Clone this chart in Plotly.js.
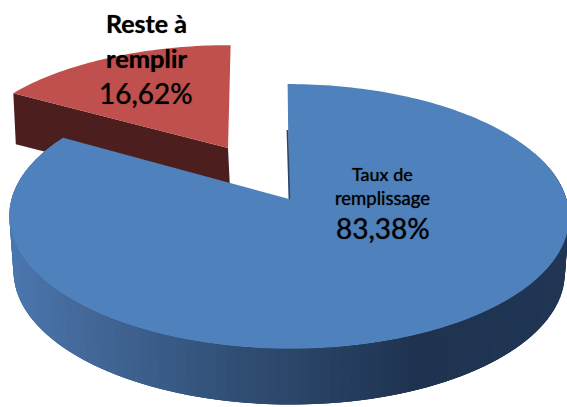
<!DOCTYPE html>
<html><head><meta charset="utf-8">
<script src="https://cdn.plot.ly/plotly-3.0.1.min.js"></script>
<style>html,body{margin:0;padding:0;background:#fff}#c{width:567px;height:407px}</style>
</head><body><div id="c"></div>
<script>
var categories = ["Taux de remplissage", "Reste à remplir"];
var values = [83.38, 16.62];
var labelLines = [["Taux de", "remplissage"], ["Reste à", "remplir"]];
var colors = ["#4f81bd", "#c0504d"];
var redSide = "#4c1f1e";

var total = values[0] + values[1];
var blueEnd = 2 * Math.PI * values[0] / total;

// Perspective disc projection (screen pixel axes)
var K = 0.131, A = 277.5, B = 130;
function proj(t, r, o) {
  o = o || {};
  var u = r * Math.sin(t), v = r * Math.cos(t), w = 1 + K * v;
  var px = A * u / w, py = -B * v / w;
  var dx = (o.sx || 1) * px + (o.shear || 0) * (-py) + (o.dx || 0);
  var dy = (o.sy || 1) * py + (o.dy || 0);
  return [289 + dx + (-0.012) * (-py), 199 + dy];
}
var blueTop = {};
var blueBot = {sx: 0.985, dy: 56};
var redTop = {dx: -61, dy: -51, sx: 0.96, sy: 0.895, shear: 0.035};
var redBot = {dx: -58.5, dy: 0, sx: 0.96, sy: 0.895, shear: 0.035};

function arc(t0, t1, o, n) {
  var xs = [], ys = [];
  for (var i = 0; i <= n; i++) {
    var p = proj(t0 + (t1 - t0) * i / n, 1, o);
    xs.push(p[0]); ys.push(p[1]);
  }
  return [xs, ys];
}
function poly(x, y, color) {
  return {x: x, y: y, type: "scatter", mode: "none", fill: "toself", fillcolor: color,
    hoverinfo: "skip", showlegend: false};
}
var traces = [];

// Red slice: cut wall, then top
var rc0 = proj(0, 0, redTop), rc1 = proj(0, 0, redBot);
var rl0 = proj(blueEnd, 1, redTop), rl1 = proj(blueEnd, 1, redBot);
traces.push(poly([rc0[0], rl0[0], rl1[0], rc1[0]], [rc0[1], rl0[1], rl1[1], rc1[1]], redSide));
var ra = arc(blueEnd, 2 * Math.PI, redTop, 50);
traces.push(poly(ra[0].concat([rc0[0]]), ra[1].concat([rc0[1]]), colors[1]));

// Blue rim with a shaded ramp; each band overlaps the next so no seams show
var stops = [[0, [74, 118, 174]], [0.12, [68, 105, 154]], [0.4, [48, 78, 116]], [0.72, [30, 51, 80]], [1, [32, 54, 84]]];
function ramp(f) {
  for (var i = 1; i < stops.length; i++) {
    if (f <= stops[i][0]) {
      var a = stops[i - 1], b = stops[i], m = (f - a[0]) / (b[0] - a[0]);
      return "rgb(" + [0, 1, 2].map(function (k) { return Math.round(a[1][k] + (b[1][k] - a[1][k]) * m); }).join(",") + ")";
    }
  }
  return "rgb(32,54,84)";
}
var N = 120, t0 = blueEnd, t1 = Math.PI * 0.4;   // left to right
for (var i = 0; i < N; i++) {
  var a = t0 + (t1 - t0) * i / N, b = t0 + (t1 - t0) * (i + 3) / N;
  var p0 = proj(a, 1, blueTop), p1 = proj(b, 1, blueTop), q1 = proj(b, 1, blueBot), q0 = proj(a, 1, blueBot);
  traces.push(poly([p0[0], p1[0], q1[0], q0[0]], [p0[1], p1[1], q1[1], q0[1]], ramp((p0[0] - 10) / 557)));
}

// Blue top face
var ba = arc(0, blueEnd, blueTop, 240);
var bc = proj(0, 0, blueTop);
traces.push(poly(ba[0].concat([bc[0]]), ba[1].concat([bc[1]]), colors[0]));

// Thin dark sliver of the cut wall
var be = proj(0, 0.57, blueTop);
traces.push({x: [be[0] - 0.8, bc[0] + 0.4], y: [be[1], bc[1]], type: "scatter", mode: "lines",
  line: {color: "#2a4467", width: 1.6}, hoverinfo: "skip", showlegend: false});

function fmt(v) { return v.toFixed(2).replace(".", ",") + "%"; }
function note(text, x, y, size, bold) {
  return {text: bold ? "<b>" + text + "</b>" : text, x: x, y: y, xref: "x", yref: "y", showarrow: false,
    xanchor: "center", yanchor: "middle",
    font: {family: "Lato, Carlito, sans-serif", size: size, color: "#000", shadow: "0 0 1px rgba(0,0,0,0.7)"}};
}
var annotations = [
  note(labelLines[1][0], 146, 23, 25, true),
  note(labelLines[1][1], 146, 58, 25.5, true),
  note(fmt(values[1]), 146, 93, 28, false),
  note(labelLines[0][0], 382, 174, 18, false),
  note(labelLines[0][1], 382, 198, 18.5, false),
  note(fmt(values[0]), 383, 228, 28, false)
];

Plotly.newPlot("c", traces, {
  width: 567, height: 407, margin: {l: 0, r: 0, t: 0, b: 0},
  paper_bgcolor: "#fff", plot_bgcolor: "#fff", showlegend: false,
  xaxis: {range: [0, 567], visible: false, fixedrange: true},
  yaxis: {range: [407, 0], visible: false, fixedrange: true},
  annotations: annotations
}, {displayModeBar: false, staticPlot: true});
</script></body></html>
